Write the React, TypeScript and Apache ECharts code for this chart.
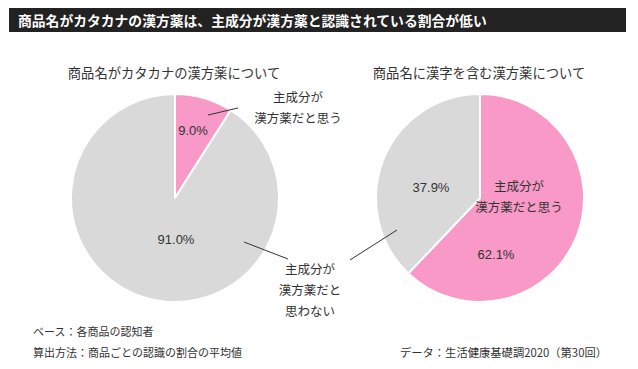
import React, { useEffect, useRef } from "react";
import * as echarts from "echarts";

const titleText = "商品名がカタカナの漢方薬は、主成分が漢方薬と認識されている割合が低い";
const pieTitles = ["商品名がカタカナの漢方薬について", "商品名に漢字を含む漢方薬について"];
const categories = ["主成分が漢方薬だと思う", "主成分が漢方薬だと思わない"];
const katakanaValues = [9.0, 91.0];
const kanjiValues = [62.1, 37.9];
const footnotes = ["ベース：各商品の認知者", "算出方法：商品ごとの認識の割合の平均値"];
const sourceText = "データ：生活健康基礎調2020（第30回）";

const PINK = "#F899C7";
const GRAY = "#D9D9D9";
const TXT = "#333333";
const FONT = "'Noto Sans CJK JP', 'Noto Sans', sans-serif";
const NUMFONT = "'Liberation Sans', Arial, sans-serif";

const pct = (v: number) => v.toFixed(1) + "%";

export default function App() {
  const ref = useRef<HTMLDivElement>(null);
  useEffect(() => {
    if (!ref.current) return;
    const chart = echarts.init(ref.current, null, { renderer: "svg" });
    const pieSeries = (center: [number, number], values: number[]) => ({
      type: "pie",
      center,
      radius: 104,
      startAngle: 90,
      clockwise: true,
      z: 1,
      label: { show: false },
      labelLine: { show: false },
      emphasis: { disabled: true },
      itemStyle: { borderColor: "#ffffff", borderWidth: 2 },
      data: values.map((v, i) => ({
        name: categories[i],
        value: v,
        itemStyle: { color: i === 0 ? PINK : GRAY },
      })),
    });
    const txt = (x: number, y: number, text: string, size = 13, align = "center", font = FONT) => ({
      type: "text",
      x,
      y,
      z: 20,
      style: {
        text,
        fill: TXT,
        font: `${size}px ${font}`,
        textAlign: align,
        textVerticalAlign: "middle",
        lineHeight: 21,
      },
      silent: true,
    });
    const line = (x1: number, y1: number, x2: number, y2: number) => ({
      type: "line",
      shape: { x1, y1, x2, y2 },
      style: { stroke: "#333333", lineWidth: 1 },
      silent: true,
      z: 20,
    });
    chart.setOption({
      animation: false,
      textStyle: { fontFamily: FONT },
      series: [pieSeries([175, 198], katakanaValues), pieSeries([480, 198], kanjiValues)],
      graphic: [
        { type: "rect", z: 20, shape: { x: 9, y: 8, width: 617, height: 24 }, style: { fill: "#222222" }, silent: true },
        {
          type: "text",
          x: 18,
          y: 20,
          z: 21,
          style: { text: titleText, fill: "#ffffff", font: `bold 13.8px ${FONT}`, textVerticalAlign: "middle" },
          silent: true,
        },
        txt(174, 72, pieTitles[0], 13.3),
        txt(479, 72, pieTitles[1], 13.3),
        txt(193, 130, pct(katakanaValues[0]), 13, "center", NUMFONT),
        txt(176, 239, pct(katakanaValues[1]), 13, "center", NUMFONT),
        txt(298, 107, "主成分が\n漢方薬だと思う", 12.5),
        line(208, 115, 238, 108),
        txt(431, 187, pct(kanjiValues[1]), 13, "center", NUMFONT),
        txt(496, 254, pct(kanjiValues[0]), 13, "center", NUMFONT),
        txt(519, 196, "主成分が\n漢方薬だと思う", 12.5),
        txt(310, 289, "主成分が\n漢方薬だと\n思わない", 12.5),
        line(244, 242, 288, 259),
        line(350, 260, 397, 230),
        txt(33, 331, footnotes[0], 11, "left"),
        txt(33, 352, footnotes[1], 11, "left"),
        txt(607, 352, sourceText, 11.3, "right"),
      ],
    });
    return () => chart.dispose();
  }, []);
  return (
    <div
      ref={ref}
      style={{ position: "absolute", left: 0, top: 0, width: 638, height: 369, background: "#ffffff" }}
    />
  );
}
